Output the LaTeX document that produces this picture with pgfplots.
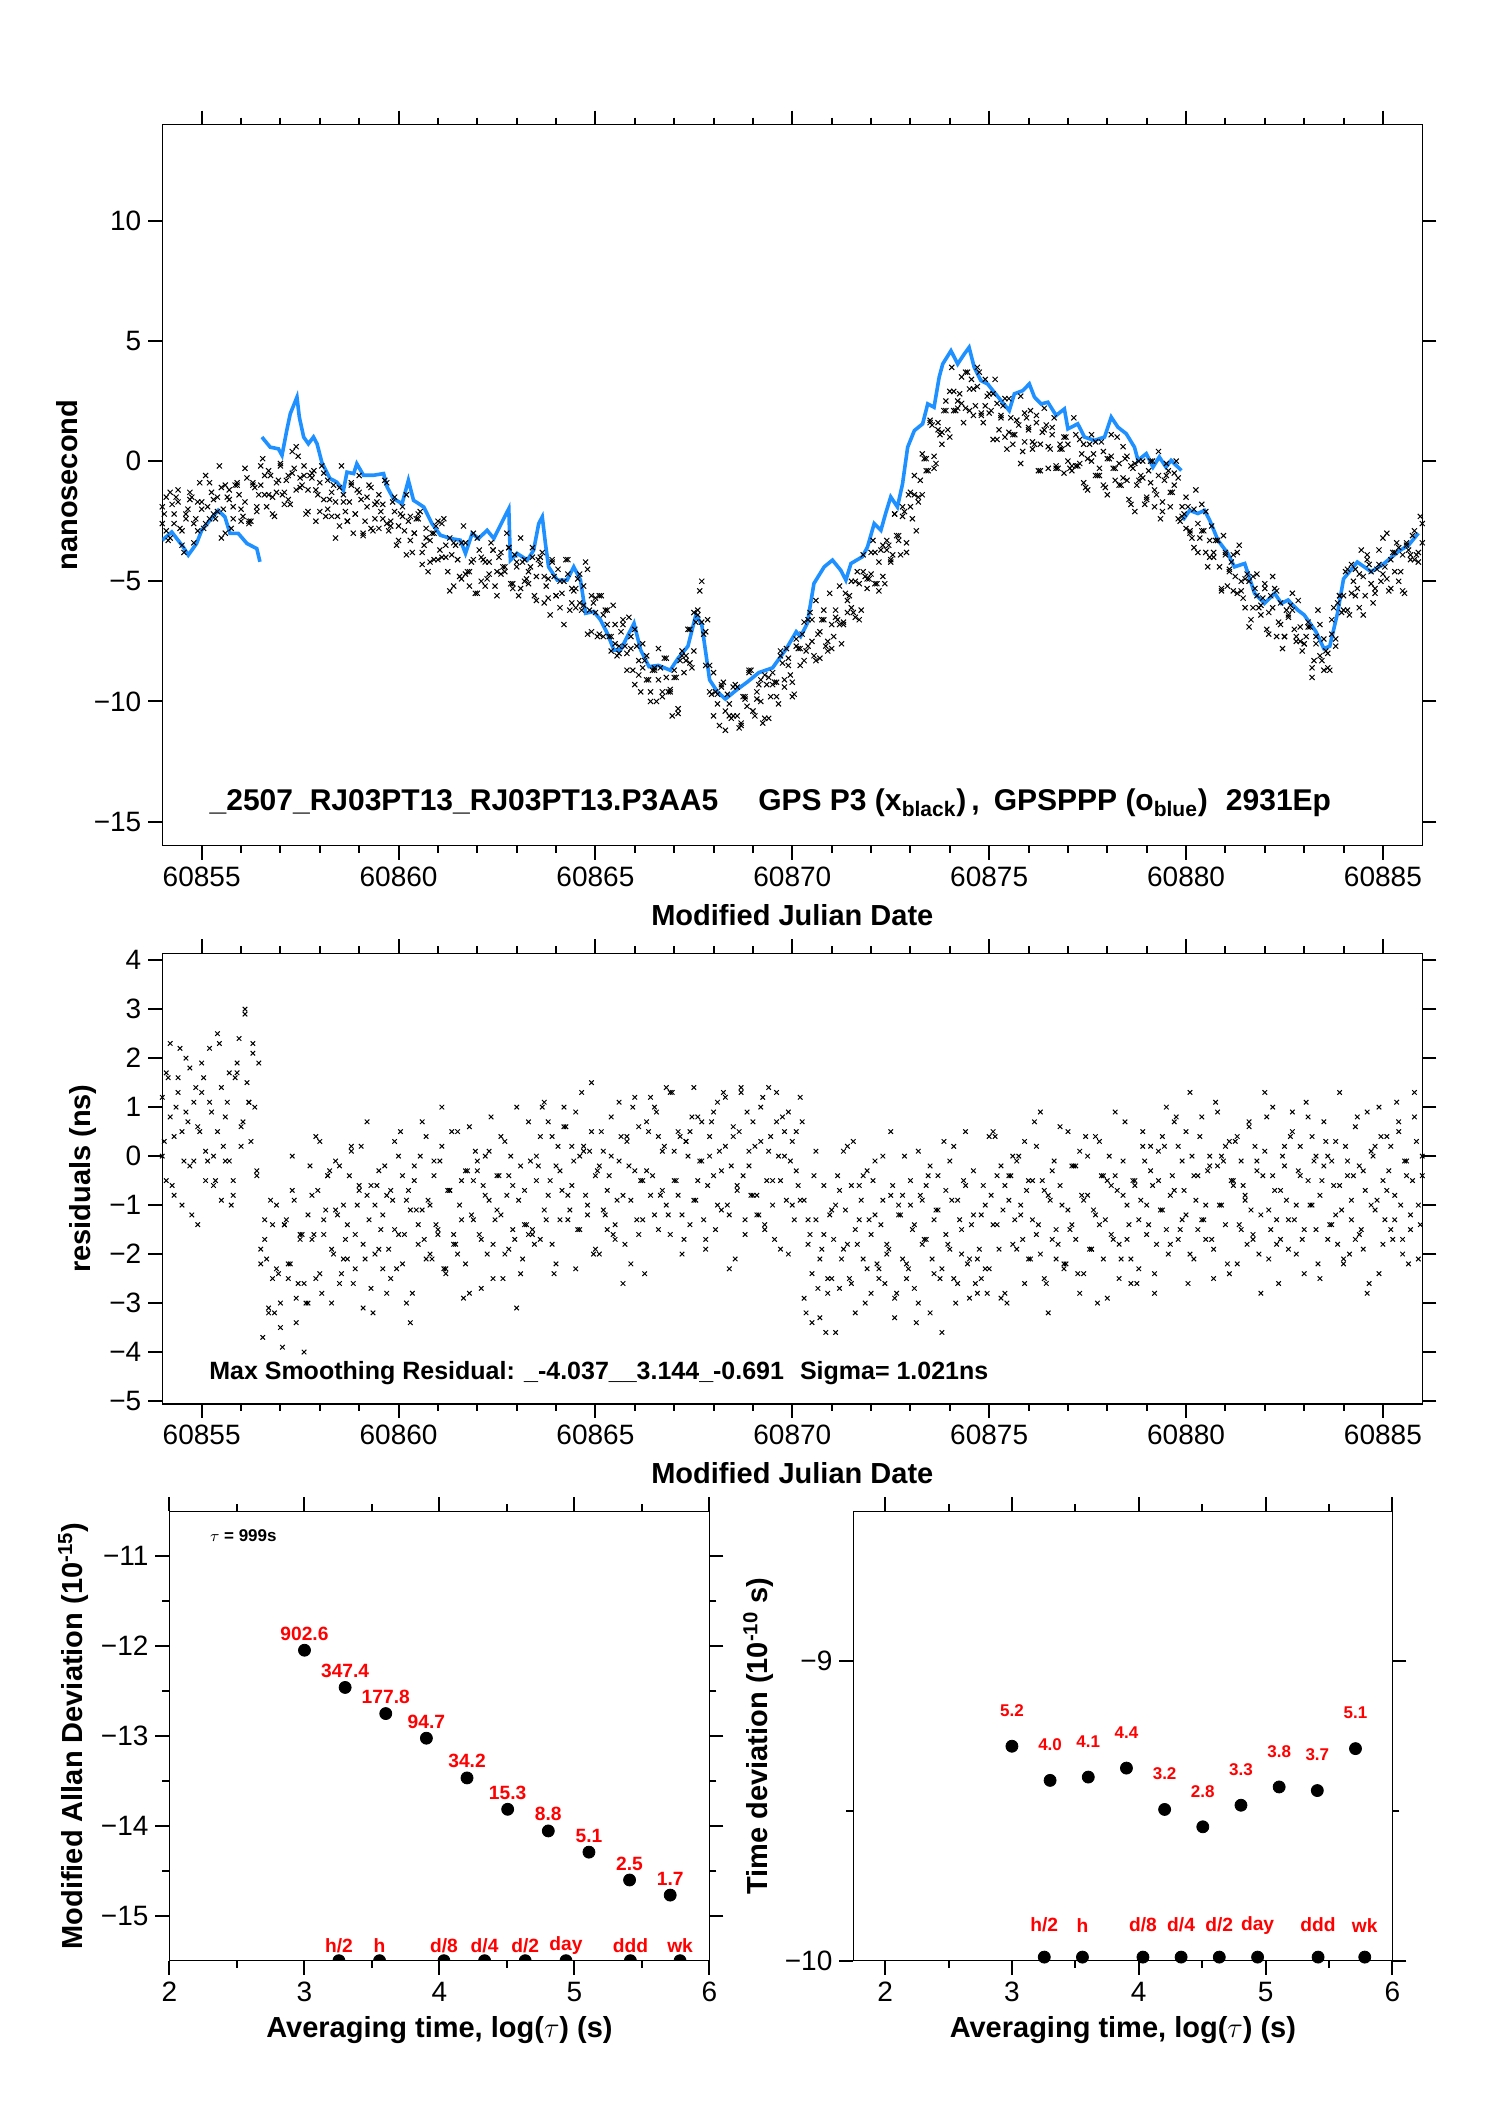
\documentclass[border=0pt]{standalone}
\usepackage{fontspec}
\setmainfont{Liberation Sans}
\usepackage{pgfplots}
\usepackage{pgfplotstable}
\pgfplotsset{compat=1.18}
\definecolor{ppp}{RGB}{30,144,255}

% GPS P3 clock offsets (two samples per row), ns
\pgfplotstableread{
x a b
60854.0 -1.9 -2.6
60854.1 -2.9 -1.5
60854.2 -1.3 -3.2
60854.3 -2.6 -2.2
60854.4 -1.7 -1.2
60854.5 -3.5 -2.9
60854.6 -2.2 -2.4
60854.7 -1.3 -1.6
60854.8 -2.6 -3.4
60854.9 -2.9 -1.7
60855.0 -1.7 -2.0
60855.1 -0.6 -2.6
60855.2 -2.4 -0.9
60855.3 -1.6 -2.2
60855.4 -2.1 -1.5
60855.5 -1.1 -3.2
60855.6 -3.0 -1.0
60855.7 -1.2 -1.6
60855.8 -1.9 -2.4
60855.9 -1.0 -0.9
60856.0 -2.5 -2.0
60856.1 -1.7 -0.3
60856.2 -2.5 -2.6
60856.3 -1.0 -0.9
60856.4 -1.9 -2.1
60856.5 -0.2 -1.0
60856.6 -1.4 -0.6
60856.7 -0.4 -1.4
60856.8 -2.2 -1.5
60856.9 -0.9 -1.3
60857.0 -0.1 -0.2
60857.1 -1.3 -1.8
60857.2 -1.6 -0.6
60857.3 -0.5 0.4
60857.4 0.6 -1.2
60857.5 -1.1 -0.7
60857.6 -0.6 -0.2
60857.7 -1.2 -2.1
60857.8 -0.5 -0.7
60857.9 -2.5 -1.2
60858.0 -0.9 -2.1
60858.1 -1.6 -0.5
60858.2 -0.8 -2.0
60858.3 -2.3 -1.3
60858.4 -1.7 -3.2
60858.5 -2.7 -1.1
60858.6 -1.4 -1.7
60858.7 -2.5 -2.5
60858.8 -0.9 -1.0
60858.9 -2.2 -2.2
60859.0 -1.3 -0.6
60859.1 -3.1 -3.0
60859.2 -1.9 -1.5
60859.3 -1.1 -2.8
60859.4 -2.4 -1.8
60859.5 -2.8 -1.4
60859.6 -1.8 -2.4
60859.7 -0.9 -2.6
60859.8 -2.7 -2.5
60859.9 -2.1 -1.5
60860.0 -2.7 -3.3
60860.1 -1.9 -2.3
60860.2 -3.9 -1.4
60860.3 -2.3 -3.3
60860.4 -3.0 -3.0
60860.5 -2.2 -2.4
60860.6 -3.8 -4.3
60860.7 -3.2 -2.8
60860.8 -4.2 -3.3
60860.9 -3.0 -4.1
60861.0 -4.1 -2.5
60861.1 -2.6 -4.0
60861.2 -4.0 -3.5
60861.3 -3.2 -5.4
60861.4 -5.2 -3.4
60861.5 -4.1 -4.1
60861.6 -3.4 -4.9
60861.7 -4.7 -3.4
60861.8 -5.2 -4.6
60861.9 -4.1 -3.0
60862.0 -3.2 -5.5
60862.1 -5.0 -4.0
60862.2 -4.2 -5.2
60862.3 -4.7 -4.2
60862.4 -3.7 -3.7
60862.5 -5.6 -4.6
60862.6 -3.8 -4.7
60862.7 -4.4 -4.6
60862.8 -3.6 -3.6
60862.9 -5.1 -5.3
60863.0 -4.4 -4.2
60863.1 -5.3 -3.2
60863.2 -4.1 -5.0
60863.3 -5.1 -4.6
60863.4 -3.6 -4.0
60863.5 -4.8 -5.8
60863.6 -4.0 -4.3
60863.7 -5.9 -4.8
60863.8 -4.9 -5.7
60863.9 -4.2 -4.1
60864.0 -5.6 -5.6
60864.1 -6.1 -5.0
60864.2 -5.0 -6.8
60864.3 -4.1 -4.7
60864.4 -5.9 -5.3
60864.5 -5.3 -6.1
60864.6 -5.9 -4.7
60864.7 -5.2 -6.0
60864.8 -7.2 -4.5
60864.9 -5.6 -7.1
60865.0 -6.3 -5.7
60865.1 -5.6 -7.2
60865.2 -7.3 -6.4
60865.3 -6.8 -6.2
60865.4 -7.9 -7.3
60865.5 -6.8 -7.6
60865.6 -8.0 -7.7
60865.7 -6.6 -6.8
60865.8 -8.0 -8.7
60865.9 -7.3 -7.8
60866.0 -9.3 -7.0
60866.1 -8.3 -8.9
60866.2 -7.6 -8.6
60866.3 -9.1 -8.1
60866.4 -9.6 -10.0
60866.5 -8.7 -8.6
60866.6 -7.8 -9.1
60866.7 -9.6 -9.8
60866.8 -9.0 -8.2
60866.9 -9.5 -9.6
60867.0 -8.7 -9.0
60867.1 -10.3 -10.5
60867.2 -8.1 -7.9
60867.3 -8.3 -8.1
60867.4 -7.0 -8.4
60867.5 -7.9 -6.3
60867.6 -6.2 -6.4
60867.7 -6.7 -5.0
60867.8 -7.1 -8.5
60867.9 -9.6 -8.5
60868.0 -8.8 -10.6
60868.1 -10.1 -9.7
60868.2 -9.3 -9.4
60868.3 -11.2 -10.4
60868.4 -10.1 -10.6
60868.5 -9.4 -10.6
60868.6 -10.6 -9.4
60868.7 -10.9 -11.0
60868.8 -9.8 -9.9
60868.9 -8.7 -8.8
60869.0 -10.4 -10.4
60869.1 -9.6 -9.9
60869.2 -10.0 -9.1
60869.3 -8.9 -10.7
60869.4 -10.7 -9.0
60869.5 -8.8 -9.3
60869.6 -9.2 -9.8
60869.7 -8.1 -7.9
60869.8 -9.4 -9.1
60869.9 -8.5 -8.2
60870.0 -9.2 -9.8
60870.1 -7.7 -7.4
60870.2 -8.5 -7.8
60870.3 -6.7 -8.3
60870.4 -7.7 -6.6
60870.5 -6.6 -7.5
60870.6 -8.3 -5.8
60870.7 -7.1 -8.2
60870.8 -6.2 -6.6
60870.9 -7.5 -7.9
60871.0 -7.8 -6.8
60871.1 -6.5 -6.2
60871.2 -5.2 -6.8
60871.3 -6.8 -6.7
60871.4 -5.8 -6.3
60871.5 -6.1 -5.0
60871.6 -5.0 -6.5
60871.7 -6.6 -5.1
60871.8 -4.6 -3.9
60871.9 -4.9 -5.3
60872.0 -3.8 -4.7
60872.1 -5.1 -3.8
60872.2 -4.2 -5.4
60872.3 -4.8 -3.5
60872.4 -3.3 -3.7
60872.5 -4.1 -4.2
60872.6 -2.2 -2.2
60872.7 -3.1 -3.3
60872.8 -1.9 -2.3
60872.9 -3.4 -3.8
60873.0 -1.9 -1.3
60873.1 -0.6 -1.4
60873.2 -1.5 -1.7
60873.3 -1.4 0.3
60873.4 0.1 -0.4
60873.5 1.6 1.7
60873.6 0.2 -0.3
60873.7 1.3 1.6
60873.8 1.2 0.7
60873.9 2.5 2.1
60874.0 1.0 2.9
60874.1 2.9 2.1
60874.2 2.5 2.2
60874.3 3.5 2.4
60874.4 2.2 3.7
60874.5 3.0 2.1
60874.6 1.9 3.0
60874.7 3.1 3.9
60874.8 1.9 2.0
60874.9 3.4 2.3
60875.0 2.0 2.8
60875.1 2.8 0.9
60875.2 0.9 2.4
60875.3 1.9 1.8
60875.4 2.6 1.0
60875.5 1.2 2.6
60875.6 0.7 1.1
60875.7 1.7 1.7
60875.8 2.7 -0.1
60875.9 0.8 2.0
60876.0 1.4 1.3
60876.1 0.8 0.5
60876.2 1.6 1.9
60876.3 -0.4 0.7
60876.4 1.3 2.2
60876.5 0.6 -0.3
60876.6 1.4 1.1
60876.7 -0.2 -0.3
60876.8 0.5 0.7
60876.9 -0.5 1.0
60877.0 0.7 0.0
60877.1 -0.4 -0.2
60877.2 1.1 -0.2
60877.3 -0.1 0.9
60877.4 0.7 -0.9
60877.5 -1.2 0.1
60877.6 0.0 1.1
60877.7 0.8 -0.6
60877.8 -0.6 -0.3
60877.9 -1.0 0.4
60878.0 0.1 -1.4
60878.1 1.1 0.2
60878.2 -0.8 -0.3
60878.3 -0.1 -1.0
60878.4 -0.7 0.6
60878.5 0.2 -0.8
60878.6 -1.8 -0.2
60878.7 -0.1 -2.1
60878.8 -0.8 0.0
60878.9 0.0 -0.7
60879.0 -1.6 -1.5
60879.1 -0.9 0.0
60879.2 -1.9 -1.2
60879.3 -0.6 0.4
60879.4 -1.7 -2.1
60879.5 -0.1 -0.6
60879.6 -1.3 -1.9
60879.7 -0.5 -1.0
60879.8 -2.4 -0.7
60879.9 -1.9 -2.3
60880.0 -1.5 -2.8
60880.1 -3.0 -2.9
60880.2 -3.6 -2.0
60880.3 -2.6 -3.8
60880.4 -1.8 -2.9
60880.5 -3.8 -2.1
60880.6 -3.3 -4.0
60880.7 -4.0 -3.8
60880.8 -3.3 -3.3
60880.9 -5.4 -5.3
60881.0 -3.8 -3.9
60881.1 -4.6 -4.5
60881.2 -3.9 -5.4
60881.3 -5.5 -3.8
60881.4 -5.0 -5.4
60881.5 -6.1 -4.9
60881.6 -5.0 -6.9
60881.7 -6.1 -4.8
60881.8 -4.7 -5.6
60881.9 -6.0 -6.4
60882.0 -5.3 -5.1
60882.1 -7.2 -6.3
60882.2 -6.1 -4.8
60882.3 -5.4 -7.3
60882.4 -6.8 -5.9
60882.5 -7.3 -7.3
60882.6 -6.4 -6.5
60882.7 -5.5 -6.2
60882.8 -7.5 -7.3
60882.9 -6.9 -7.5
60883.0 -7.6 -7.6
60883.1 -6.9 -6.7
60883.2 -9.0 -8.6
60883.3 -7.3 -7.6
60883.4 -8.1 -6.8
60883.5 -7.4 -8.7
60883.6 -8.6 -8.0
60883.7 -7.2 -6.6
60883.8 -7.4 -7.7
60883.9 -5.6 -5.6
60884.0 -6.2 -5.6
60884.1 -4.5 -6.2
60884.2 -5.5 -4.3
60884.3 -4.5 -5.6
60884.4 -6.1 -4.7
60884.5 -4.8 -6.4
60884.6 -3.9 -4.1
60884.7 -5.1 -4.6
60884.8 -5.5 -5.3
60884.9 -4.3 -3.7
60885.0 -3.2 -4.7
60885.1 -4.9 -3.0
60885.2 -4.1 -5.3
60885.3 -4.6 -3.8
60885.4 -3.6 -5.0
60885.5 -5.4 -3.9
60885.6 -3.5 -3.4
60885.7 -3.9 -4.1
60885.8 -2.9 -4.1
60885.9 -4.2 -3.8
60886.0 -3.4 -2.6
}\pthree

% GPS P3, samples between the rows above
\pgfplotstableread{
x y
60854.05 -2.2
60854.15 -3.3
60854.25 -1.8
60854.35 -1.5
60854.45 -2.8
60854.55 -3.8
60854.65 -2.0
60854.75 -1.5
60854.85 -2.4
60854.95 -0.9
60855.05 -2.8
60855.15 -1.9
60855.25 -1.3
60855.35 -2.4
60855.45 -0.2
60855.55 -2.0
60855.65 -1.5
60855.75 -2.8
60855.85 -1.0
60855.95 -1.4
60856.05 -2.3
60856.15 -0.7
60856.25 -2.5
60856.35 -1.1
60856.45 -1.4
60856.55 0.1
60856.65 -1.9
60856.75 -0.6
60856.85 -2.3
60856.95 -0.8
60857.05 -1.4
60857.15 -0.8
60857.25 -1.8
60857.35 -0.3
60857.45 0.2
60857.55 -1.0
60857.65 -2.2
60857.75 -0.6
60857.85 -0.4
60857.95 -1.4
60858.05 -0.2
60858.15 -2.3
60858.25 -1.6
60858.35 -1.0
60858.45 -2.3
60858.55 -0.2
60858.65 -2.1
60858.75 -1.7
60858.85 -3.0
60858.95 -1.2
60859.05 -1.6
60859.15 -2.5
60859.25 -1.0
60859.35 -2.9
60859.45 -1.7
60859.55 -2.1
60859.65 -0.8
60859.75 -2.9
60859.85 -1.7
60859.95 -3.5
60860.05 -2.2
60860.15 -2.9
60860.25 -2.5
60860.35 -3.8
60860.45 -2.4
60860.55 -2.1
60860.65 -3.5
60860.75 -4.6
60860.85 -3.0
60860.95 -2.7
60861.05 -3.7
60861.15 -2.4
60861.25 -4.6
60861.35 -3.9
60861.45 -3.5
60861.55 -4.8
60861.65 -2.7
60861.75 -4.6
60861.85 -4.2
60861.95 -5.5
60862.05 -3.7
60862.15 -4.1
60862.25 -4.9
60862.35 -3.4
60862.45 -5.2
60862.55 -4.0
60862.65 -4.4
60862.75 -3.0
60862.85 -5.1
60862.95 -3.9
60863.05 -5.6
60863.15 -4.2
60863.25 -4.9
60863.35 -4.4
60863.45 -5.6
60863.55 -4.1
60863.65 -3.8
60863.75 -5.2
60863.85 -6.4
60863.95 -4.8
60864.05 -4.5
60864.15 -5.5
60864.25 -4.1
60864.35 -6.2
60864.45 -5.4
60864.55 -4.9
60864.65 -6.2
60864.75 -4.2
60864.85 -6.2
60864.95 -5.9
60865.05 -7.3
60865.15 -5.6
60865.25 -6.2
60865.35 -7.3
60865.45 -6.0
60865.55 -8.1
60865.65 -7.1
60865.75 -7.7
60865.85 -6.5
60865.95 -8.7
60866.05 -7.7
60866.15 -9.6
60866.25 -8.3
60866.35 -9.1
60866.45 -8.7
60866.55 -10.0
60866.65 -8.6
60866.75 -8.2
60866.85 -9.6
60866.95 -10.6
60867.05 -9.0
60867.15 -8.3
60867.25 -8.8
60867.35 -7.0
60867.45 -8.6
60867.55 -6.7
60867.65 -5.4
60867.75 -7.2
60867.85 -6.6
60867.95 -9.7
60868.05 -9.6
60868.15 -11.0
60868.25 -9.2
60868.35 -9.7
60868.45 -10.7
60868.55 -9.3
60868.65 -11.1
60868.75 -9.8
60868.85 -10.2
60868.95 -8.7
60869.05 -10.6
60869.15 -9.3
60869.25 -10.9
60869.35 -9.3
60869.45 -9.8
60869.55 -9.2
60869.65 -10.1
60869.75 -8.4
60869.85 -7.8
60869.95 -8.9
60870.05 -9.7
60870.15 -7.8
60870.25 -7.2
60870.35 -7.9
60870.45 -6.3
60870.55 -8.1
60870.65 -7.2
60870.75 -6.6
60870.85 -7.7
60870.95 -5.5
60871.05 -7.3
60871.15 -6.6
60871.25 -7.6
60871.35 -5.5
60871.45 -5.6
60871.55 -6.3
60871.65 -4.6
60871.75 -6.2
60871.85 -4.8
60871.95 -4.9
60872.05 -3.3
60872.15 -5.1
60872.25 -3.7
60872.35 -5.1
60872.45 -3.5
60872.55 -3.9
60872.65 -3.1
60872.75 -3.9
60872.85 -2.1
60872.95 -1.4
60873.05 -2.4
60873.15 -2.9
60873.25 -0.8
60873.35 0.1
60873.45 -0.4
60873.55 1.5
60873.65 -0.1
60873.75 1.1
60873.85 2.1
60873.95 1.3
60874.05 3.9
60874.15 2.1
60874.25 2.8
60874.35 1.6
60874.45 3.7
60874.55 3.4
60874.65 2.3
60874.75 3.7
60874.85 1.6
60874.95 2.7
60875.05 2.1
60875.15 3.4
60875.25 1.3
60875.35 2.3
60875.45 0.5
60875.55 1.8
60875.65 1.1
60875.75 1.5
60875.85 0.4
60875.95 1.8
60876.05 2.1
60876.15 0.7
60876.25 -0.4
60876.35 1.2
60876.45 1.5
60876.55 0.5
60876.65 1.8
60876.75 -0.3
60876.85 0.5
60876.95 1.0
60877.05 -0.3
60877.15 1.8
60877.25 -0.2
60877.35 0.3
60877.45 -1.1
60877.55 0.7
60877.65 0.3
60877.75 -0.6
60877.85 0.8
60877.95 -1.1
60878.05 0.1
60878.15 -0.3
60878.25 1.0
60878.35 -1.0
60878.45 0.1
60878.55 -1.6
60878.65 -0.3
60878.75 -1.0
60878.85 -0.6
60878.95 -1.8
60879.05 -0.4
60879.15 0.0
60879.25 -1.4
60879.35 -2.4
60879.45 -0.8
60879.55 -0.4
60879.65 -1.3
60879.75 0.0
60879.85 -2.5
60879.95 -2.2
60880.05 -1.9
60880.15 -3.2
60880.25 -1.2
60880.35 -3.2
60880.45 -2.9
60880.55 -4.4
60880.65 -2.7
60880.75 -3.3
60880.85 -4.4
60880.95 -3.1
60881.05 -5.2
60881.15 -4.2
60881.25 -4.8
60881.35 -3.5
60881.45 -5.7
60881.55 -4.7
60881.65 -6.6
60881.75 -5.3
60881.85 -6.1
60881.95 -5.7
60882.05 -7.0
60882.15 -5.6
60882.25 -5.3
60882.35 -6.7
60882.45 -7.8
60882.55 -6.2
60882.65 -6.0
60882.75 -7.0
60882.85 -5.8
60882.95 -7.9
60883.05 -7.3
60883.15 -6.9
60883.25 -8.3
60883.35 -6.2
60883.45 -8.3
60883.55 -7.9
60883.65 -8.7
60883.75 -6.1
60883.85 -5.9
60883.95 -6.3
60884.05 -4.6
60884.15 -6.4
60884.25 -5.0
60884.35 -5.3
60884.45 -3.7
60884.55 -5.6
60884.65 -4.3
60884.75 -5.9
60884.85 -4.5
60884.95 -5.0
60885.05 -4.4
60885.15 -5.4
60885.25 -3.8
60885.35 -3.4
60885.45 -4.6
60885.55 -5.5
60885.65 -3.7
60885.75 -3.1
60885.85 -3.9
60885.95 -2.3
}\pthreeh

% GPSPPP solution, ns
\pgfplotstableread{
x y
60854.00 -3.29
60854.24 -2.95
60854.53 -3.57
60854.66 -3.91
60854.87 -3.43
60855.00 -2.88
60855.21 -2.46
60855.42 -2.05
60855.59 -2.32
60855.72 -3.01
60855.93 -3.01
60856.15 -3.43
60856.40 -3.64
60856.48 -4.19
nan nan
60856.53 1.00
60856.74 0.58
60856.95 0.51
60857.04 0.24
60857.16 1.27
60857.25 1.97
60857.42 2.66
60857.48 1.83
60857.59 1.00
60857.71 0.72
60857.84 1.00
60857.93 0.72
60858.05 -0.04
60858.26 -0.73
60858.43 -0.87
60858.60 -1.22
60858.69 -0.46
60858.86 -0.52
60858.94 -0.11
60859.11 -0.59
60859.36 -0.59
60859.62 -0.52
60859.71 -1.08
60859.87 -1.56
60860.09 -1.77
60860.25 -0.80
60860.38 -1.63
60860.64 -1.91
60860.85 -2.60
60861.06 -3.08
60861.32 -3.22
60861.57 -3.29
60861.70 -3.84
60861.87 -3.01
60862.03 -3.22
60862.25 -2.88
60862.42 -3.22
60862.63 -2.53
60862.80 -1.98
60862.84 -4.12
60863.01 -3.84
60863.27 -4.12
60863.43 -3.71
60863.56 -2.60
60863.65 -2.32
60863.73 -3.43
60863.81 -4.40
60864.03 -4.95
60864.28 -4.95
60864.45 -4.40
60864.62 -4.95
60864.75 -6.33
60864.96 -6.26
60865.13 -6.61
60865.30 -7.16
60865.47 -7.86
60865.64 -7.86
60865.81 -7.30
60865.98 -6.75
60866.15 -7.86
60866.36 -8.55
60866.60 -8.50
60866.90 -8.70
60867.10 -8.20
60867.35 -7.70
60867.55 -6.40
60867.70 -6.80
60867.90 -9.10
60868.10 -9.60
60868.30 -9.90
60868.60 -9.50
60868.85 -9.20
60869.15 -8.80
60869.50 -8.60
60869.85 -7.80
60870.10 -7.10
60870.21 -7.30
60870.38 -6.75
60870.55 -5.09
60870.81 -4.40
60871.02 -4.12
60871.23 -4.54
60871.36 -4.95
60871.49 -4.26
60871.78 -3.98
60871.91 -3.57
60872.08 -2.60
60872.25 -2.88
60872.37 -2.18
60872.50 -1.49
60872.67 -1.91
60872.80 -0.94
60872.93 0.58
60873.10 1.27
60873.31 1.55
60873.44 2.38
60873.60 2.24
60873.73 3.49
60873.82 4.04
60874.03 4.59
60874.20 4.04
60874.37 4.46
60874.49 4.73
60874.62 3.90
60874.79 3.35
60874.96 3.21
60875.13 2.86
60875.30 2.52
60875.51 2.10
60875.64 2.80
60875.85 2.93
60876.02 3.21
60876.15 2.66
60876.32 2.38
60876.49 2.45
60876.70 1.90
60876.91 2.17
60877.00 1.34
60877.25 1.55
60877.42 1.00
60877.67 0.86
60877.93 1.00
60878.10 1.83
60878.27 1.41
60878.48 1.14
60878.69 0.58
60878.78 0.03
60878.99 0.31
60879.16 -0.25
60879.32 0.17
60879.49 -0.25
60879.62 0.03
60879.88 -0.39
nan nan
60879.92 -2.46
60880.09 -2.05
60880.30 -2.18
60880.47 -2.05
60880.60 -2.46
60880.81 -3.29
60881.06 -3.84
60881.23 -4.40
60881.49 -4.26
60881.74 -5.50
60881.99 -5.92
60882.25 -5.50
60882.42 -5.92
60882.59 -5.78
60882.84 -6.20
60883.00 -6.40
60883.30 -7.10
60883.50 -7.80
60883.65 -7.70
60883.85 -6.30
60884.00 -4.90
60884.35 -4.20
60884.70 -4.60
60885.00 -4.30
60885.40 -3.75
60885.65 -3.50
60885.90 -3.00
}\gpsppp

% smoothing residuals, ns
\pgfplotstableread{
x a b
60854.0 1.2 0.0
60854.1 -0.5 1.7
60854.2 2.3 0.8
60854.3 0.4 -0.8
60854.4 1.6 1.3
60854.5 -1.0 0.5
60854.6 0.9 2.0
60854.7 1.8 -0.2
60854.8 -0.1 1.1
60854.9 0.6 -1.4
60855.0 1.9 1.3
60855.1 -0.5 0.1
60855.2 1.1 2.2
60855.3 0.0 -0.6
60855.4 2.5 0.5
60855.5 -0.9 1.4
60855.6 0.8 -0.1
60855.7 -0.1 1.7
60855.8 -0.5 -0.8
60855.9 1.9 1.7
60856.0 0.2 0.6
60856.1 3.0 2.9
60856.2 1.1 1.1
60856.3 2.3 2.1
60856.4 -0.3 -0.4
60856.5 -2.2 -1.9
60856.6 -1.3 -1.7
60856.7 -3.2 -3.1
60856.8 -2.5 -1.4
60856.9 -1.0 -2.3
60857.0 -3.0 -3.5
60857.1 -1.4 -1.4
60857.2 -2.5 -2.2
60857.3 0.0 -0.7
60857.4 -3.4 -2.9
60857.5 -1.7 -1.6
60857.6 -2.6 -4.0
60857.7 -3.0 -1.2
60857.8 -0.8 -1.7
60857.9 -2.5 0.4
60858.0 0.3 -2.4
60858.1 -1.6 -1.3
60858.2 -0.4 -0.4
60858.3 -3.0 -1.9
60858.4 -1.1 -0.1
60858.5 -0.2 -2.6
60858.6 -2.1 -1.0
60858.7 -1.4 -2.1
60858.8 0.1 0.2
60858.9 -2.3 -1.6
60859.0 -0.7 -0.6
60859.1 -1.8 -3.1
60859.2 0.7 -0.8
60859.3 -2.7 -0.6
60859.4 -1.0 -2.0
60859.5 -1.9 -0.3
60859.6 -2.3 -1.2
60859.7 -0.8 -2.8
60859.8 -2.5 -0.7
60859.9 0.3 -1.5
60860.0 -1.6 0.0
60860.1 -0.4 -2.2
60860.2 -3.0 -0.9
60860.3 -1.1 -3.4
60860.4 -0.2 -0.5
60860.5 -1.8 -1.4
60860.6 -1.1 0.7
60860.7 0.4 -2.1
60860.8 -2.0 -1.0
60860.9 -0.4 -0.1
60861.0 -1.5 -1.6
60861.1 1.0 0.2
60861.2 -2.4 -2.3
60861.3 -0.7 -0.7
60861.4 -1.6 -1.8
60861.5 -2.0 0.5
60861.6 -0.5 -1.3
60861.7 -2.2 -0.3
60861.8 0.6 -2.8
60861.9 -1.3 -0.5
60862.0 -0.1 -0.3
60862.1 -2.7 -1.7
60862.2 -0.8 0.0
60862.3 0.1 -0.9
60862.4 -1.8 -2.5
60862.5 -1.1 -0.4
60862.6 0.4 -1.2
60862.7 -2.0 0.3
60862.8 -0.4 -1.9
60862.9 -1.5 -0.6
60863.0 1.0 -3.1
60863.1 -2.4 -0.2
60863.2 -0.7 -1.4
60863.3 -1.6 0.7
60863.4 -1.5 -1.6
60863.5 0.0 -0.5
60863.6 -1.7 0.4
60863.7 1.1 -1.1
60863.8 -0.8 0.7
60863.9 0.4 -1.8
60864.0 -2.2 -0.2
60864.1 -0.3 -1.3
60864.2 0.6 1.0
60864.3 -1.3 -0.8
60864.4 -0.6 0.2
60864.5 0.9 -2.3
60864.6 -1.5 0.0
60864.7 0.1 0.2
60864.8 -1.0 -1.2
60864.9 1.5 0.5
60865.0 -1.9 -0.4
60865.1 -0.2 -2.0
60865.2 -1.1 0.1
60865.3 -1.5 -0.7
60865.4 0.0 0.8
60865.5 -1.7 -1.4
60865.6 1.1 -0.1
60865.7 -0.8 -2.6
60865.8 0.4 0.3
60865.9 -2.2 -0.9
60866.0 -0.3 1.2
60866.1 0.6 -1.6
60866.2 -1.3 -0.5
60866.3 -0.3 0.7
60866.4 1.2 -0.8
60866.5 -1.2 1.0
60866.6 0.4 -1.5
60866.7 -0.7 0.1
60866.8 1.4 -1.0
60866.9 -1.6 1.3
60867.0 0.1 -0.5
60867.1 -0.8 0.5
60867.2 -1.2 -2.0
60867.3 0.3 0.3
60867.4 -1.4 0.5
60867.5 1.4 -0.9
60867.6 -0.5 0.8
60867.7 0.7 -0.1
60867.8 -1.9 -1.7
60867.9 0.0 0.4
60868.0 0.9 -0.4
60868.1 -1.0 1.1
60868.2 -0.3 -1.1
60868.3 1.2 0.2
60868.4 -1.2 -2.3
60868.5 0.4 0.6
60868.6 -0.7 -0.6
60868.7 1.4 1.3
60868.8 -1.6 -1.3
60868.9 0.1 -0.2
60869.0 -0.8 0.7
60869.1 -1.2 -0.8
60869.2 0.3 1.0
60869.3 -1.4 -1.5
60869.4 1.4 0.1
60869.5 -0.5 -1.0
60869.6 0.7 1.3
60869.7 -1.9 -0.5
60869.8 0.0 0.5
60869.9 0.9 -2.0
60870.0 -1.0 0.3
60870.1 -0.3 0.5
60870.2 1.2 -0.9
60870.3 -2.9 -0.9
60870.4 -1.3 -1.8
60870.5 -2.4 -3.4
60870.6 0.1 -1.3
60870.7 -3.3 -2.1
60870.8 -1.6 -0.6
60870.9 -2.5 -2.8
60871.0 -2.5 -1.1
60871.1 -1.0 -3.6
60871.2 -2.7 -0.7
60871.3 0.1 -1.9
60871.4 -1.8 0.2
60871.5 -0.6 -2.6
60871.6 -3.2 -1.5
60871.7 -1.3 -0.6
60871.8 -0.4 -2.1
60871.9 -2.3 -0.3
60872.0 -1.6 -2.8
60872.1 -0.1 -1.2
60872.2 -2.5 -2.3
60872.3 -0.9 0.0
60872.4 -2.0 -1.8
60872.5 0.5 -0.8
60872.6 -2.9 -3.3
60872.7 -1.2 -1.0
60872.8 -2.1 -0.8
60872.9 -2.5 -2.2
60873.0 -1.0 -0.5
60873.1 -2.7 -1.4
60873.2 0.1 -3.0
60873.3 -1.8 -0.9
60873.4 -0.6 -1.7
60873.5 -3.2 -0.2
60873.6 -1.3 -2.4
60873.7 -0.4 -1.1
60873.8 -2.3 -3.6
60873.9 -1.6 -0.7
60874.0 -0.1 -1.9
60874.1 -2.5 0.2
60874.2 -0.9 -2.6
60874.3 -2.0 -1.5
60874.4 0.5 -0.6
60874.5 -2.9 -2.1
60874.6 -1.2 -0.3
60874.7 -2.1 -2.8
60874.8 -2.5 -1.2
60874.9 -1.0 -2.3
60875.0 -2.3 0.4
60875.1 0.5 -1.4
60875.2 -1.4 -0.4
60875.3 -0.2 -2.9
60875.4 -2.8 -0.6
60875.5 -0.9 -0.4
60875.6 0.0 -1.8
60875.7 -1.9 -0.1
60875.8 -1.2 -1.0
60875.9 0.3 -2.6
60876.0 -2.1 -0.5
60876.1 -0.5 -1.3
60876.2 -1.6 0.2
60876.3 0.9 -2.0
60876.4 -2.5 -0.7
60876.5 -0.8 -3.2
60876.6 -1.7 -0.3
60876.7 -2.1 -1.5
60876.8 -0.6 0.6
60876.9 -2.3 -2.2
60877.0 0.5 -1.1
60877.1 -1.4 -0.2
60877.2 -0.2 -1.7
60877.3 -2.8 0.1
60877.4 -0.9 -2.4
60877.5 0.0 -0.8
60877.6 -1.9 -1.9
60877.7 -1.2 0.4
60877.8 0.3 -1.4
60877.9 -2.1 -0.4
60878.0 -0.5 -2.9
60878.1 -1.6 -0.6
60878.2 0.9 -0.4
60878.3 -2.5 -1.8
60878.4 -0.8 -0.1
60878.5 -1.7 -1.0
60878.6 -2.1 -2.6
60878.7 -0.6 -0.5
60878.8 -2.3 -1.3
60878.9 0.5 0.2
60879.0 -1.0 -1.6
60879.1 0.2 -0.3
60879.2 -2.4 -2.8
60879.3 -0.5 0.1
60879.4 0.4 -1.1
60879.5 -1.5 1.0
60879.6 -0.8 -1.8
60879.7 0.7 -0.7
60879.8 -1.7 0.2
60879.9 -0.1 -1.3
60880.0 -1.2 0.5
60880.1 1.3 -2.0
60880.2 -2.1 -0.4
60880.3 -0.4 -1.5
60880.4 -1.3 0.8
60880.5 -1.7 -1.0
60880.6 -0.2 0.0
60880.7 -1.9 -2.5
60880.8 0.9 -0.2
60880.9 -1.0 0.0
60881.0 0.2 -1.4
60881.1 -2.4 0.3
60881.2 -0.5 -0.6
60881.3 0.4 -2.2
60881.4 -1.5 -0.1
60881.5 -0.8 -0.9
60881.6 0.7 0.6
60881.7 -1.7 -1.6
60881.8 -0.1 -0.3
60881.9 -1.2 -2.8
60882.0 1.3 0.1
60882.1 -2.1 -1.1
60882.2 -0.4 1.0
60882.3 -1.3 -1.8
60882.4 -1.7 -0.7
60882.5 -0.2 0.2
60882.6 -1.9 -1.3
60882.7 0.9 0.5
60882.8 -1.0 -2.0
60882.9 0.2 -0.4
60883.0 -2.4 -1.5
60883.1 -0.5 0.8
60883.2 0.4 -1.0
60883.3 -1.5 0.0
60883.4 -0.8 -2.5
60883.5 0.7 -0.2
60883.6 -1.7 0.0
60883.7 -0.1 -1.4
60883.8 -1.2 0.3
60883.9 1.3 -0.6
60884.0 -2.1 -2.2
60884.1 -0.4 -0.1
60884.2 -1.3 -0.9
60884.3 -1.7 0.6
60884.4 -0.2 -1.6
60884.5 -1.9 -0.3
60884.6 0.9 -2.8
60884.7 -1.0 0.1
60884.8 0.2 -1.1
60884.9 -2.4 1.0
60885.0 -0.5 -1.8
60885.1 0.4 -0.7
60885.2 -1.5 0.2
60885.3 -0.8 -1.3
60885.4 0.7 0.5
60885.5 -1.7 -2.0
60885.6 -0.1 -0.4
60885.7 -1.2 -1.5
60885.8 1.3 0.8
60885.9 -2.1 -1.0
60886.0 -0.4 0.0
}\resid

% residuals, samples between the rows above
\pgfplotstableread{
x y
60854.05 0.3
60854.15 1.6
60854.25 -0.6
60854.35 1.0
60854.45 2.2
60854.55 -0.1
60854.65 0.7
60854.75 -1.2
60854.85 1.4
60854.95 0.5
60855.05 1.6
60855.15 -0.1
60855.25 0.9
60855.35 -0.5
60855.45 2.3
60855.55 0.2
60855.65 1.1
60855.75 -1.0
60855.85 1.6
60855.95 2.4
60856.05 0.7
60856.15 1.5
60856.25 0.3
60856.35 1.0
60856.45 1.9
60856.55 -3.7
60856.65 -2.1
60856.75 -0.9
60856.85 -3.2
60856.95 -2.4
60857.05 -3.9
60857.15 -1.3
60857.25 -2.2
60857.35 -0.9
60857.45 -2.6
60857.55 -1.6
60857.65 -3.0
60857.75 -0.2
60857.85 -1.6
60857.95 -0.7
60858.05 -2.8
60858.15 -1.1
60858.25 -0.3
60858.35 -2.0
60858.45 -1.2
60858.55 -2.4
60858.65 -1.7
60858.75 -0.4
60858.85 -2.6
60858.95 -1.0
60859.05 0.2
60859.15 -2.1
60859.25 -1.3
60859.35 -3.2
60859.45 -0.6
60859.55 -1.5
60859.65 -0.2
60859.75 -1.9
60859.85 -0.9
60859.95 -2.3
60860.05 0.5
60860.15 -1.6
60860.25 -0.7
60860.35 -2.8
60860.45 -1.1
60860.55 0.0
60860.65 -1.7
60860.75 -0.9
60860.85 -2.1
60860.95 -1.4
60861.05 -0.1
60861.15 -2.3
60861.25 -0.7
60861.35 0.5
60861.45 -1.8
60861.55 -1.0
60861.65 -2.9
60861.75 -0.3
60861.85 -1.2
60861.95 0.1
60862.05 -1.6
60862.15 -0.6
60862.25 -2.0
60862.35 0.8
60862.45 -1.3
60862.55 -0.4
60862.65 -2.5
60862.75 -0.8
60862.85 0.0
60862.95 -1.7
60863.05 -0.9
60863.15 -2.1
60863.25 -1.4
60863.35 -0.1
60863.45 -1.8
60863.55 -0.2
60863.65 1.0
60863.75 -1.3
60863.85 -0.5
60863.95 -2.4
60864.05 0.2
60864.15 -0.7
60864.25 0.6
60864.35 -1.1
60864.45 -0.1
60864.55 -1.5
60864.65 1.3
60864.75 -0.8
60864.85 0.1
60864.95 -2.0
60865.05 -0.3
60865.15 0.5
60865.25 -1.2
60865.35 -0.4
60865.45 -1.6
60865.55 -0.9
60865.65 0.4
60865.75 -1.8
60865.85 -0.2
60865.95 1.0
60866.05 -1.3
60866.15 -0.5
60866.25 -2.4
60866.35 0.5
60866.45 -0.4
60866.55 0.9
60866.65 -0.8
60866.75 0.2
60866.85 -1.2
60866.95 1.3
60867.05 -0.5
60867.15 0.4
60867.25 -1.7
60867.35 0.0
60867.45 0.8
60867.55 -0.9
60867.65 -0.1
60867.75 -1.3
60867.85 -0.6
60867.95 0.7
60868.05 -1.5
60868.15 0.1
60868.25 1.3
60868.35 -1.0
60868.45 -0.2
60868.55 -2.1
60868.65 0.5
60868.75 -0.4
60868.85 0.9
60868.95 -0.8
60869.05 0.2
60869.15 -1.2
60869.25 1.2
60869.35 -0.5
60869.45 0.4
60869.55 -1.7
60869.65 0.0
60869.75 0.8
60869.85 -0.9
60869.95 -0.1
60870.05 -1.3
60870.15 -0.6
60870.25 0.7
60870.35 -3.2
60870.45 -1.6
60870.55 -0.4
60870.65 -2.7
60870.75 -1.9
60870.85 -3.6
60870.95 -1.2
60871.05 -1.7
60871.15 -0.4
60871.25 -2.1
60871.35 -1.1
60871.45 -2.5
60871.55 0.3
60871.65 -1.8
60871.75 -0.9
60871.85 -3.0
60871.95 -1.3
60872.05 -0.5
60872.15 -2.2
60872.25 -1.4
60872.35 -2.6
60872.45 -1.9
60872.55 -0.6
60872.65 -2.8
60872.75 -1.2
60872.85 0.0
60872.95 -2.3
60873.05 -1.5
60873.15 -3.4
60873.25 -0.8
60873.35 -1.7
60873.45 -0.4
60873.55 -2.1
60873.65 -1.1
60873.75 -2.5
60873.85 0.3
60873.95 -1.8
60874.05 -0.9
60874.15 -3.0
60874.25 -1.3
60874.35 -0.5
60874.45 -2.2
60874.55 -1.4
60874.65 -2.6
60874.75 -1.9
60874.85 -0.6
60874.95 -2.8
60875.05 -0.8
60875.15 0.4
60875.25 -1.9
60875.35 -1.1
60875.45 -3.0
60875.55 -0.4
60875.65 -1.3
60875.75 0.0
60875.85 -1.7
60875.95 -0.7
60876.05 -2.1
60876.15 0.7
60876.25 -1.4
60876.35 -0.5
60876.45 -2.6
60876.55 -0.9
60876.65 -0.1
60876.75 -1.8
60876.85 -1.0
60876.95 -2.2
60877.05 -1.5
60877.15 -0.2
60877.25 -2.4
60877.35 -0.8
60877.45 0.4
60877.55 -1.9
60877.65 -1.1
60877.75 -3.0
60877.85 -0.4
60877.95 -1.3
60878.05 0.0
60878.15 -1.7
60878.25 -0.7
60878.35 -2.1
60878.45 0.7
60878.55 -1.4
60878.65 -0.5
60878.75 -2.6
60878.85 -0.9
60878.95 -0.1
60879.05 -1.4
60879.15 -0.6
60879.25 -1.8
60879.35 -1.1
60879.45 0.2
60879.55 -2.0
60879.65 -0.4
60879.75 0.8
60879.85 -1.5
60879.95 -0.7
60880.05 -2.6
60880.15 0.0
60880.25 -0.9
60880.35 0.4
60880.45 -1.3
60880.55 -0.3
60880.65 -1.7
60880.75 1.1
60880.85 -1.0
60880.95 -0.1
60881.05 -2.2
60881.15 -0.5
60881.25 0.3
60881.35 -1.4
60881.45 -0.6
60881.55 -1.8
60881.65 -1.1
60881.75 0.2
60881.85 -2.0
60881.95 -0.4
60882.05 0.8
60882.15 -1.5
60882.25 -0.7
60882.35 -2.6
60882.45 0.0
60882.55 -0.9
60882.65 0.4
60882.75 -1.3
60882.85 -0.3
60882.95 -1.7
60883.05 1.1
60883.15 -1.0
60883.25 -0.1
60883.35 -2.2
60883.45 -0.5
60883.55 0.3
60883.65 -1.4
60883.75 -0.6
60883.85 -1.8
60883.95 -1.1
60884.05 0.2
60884.15 -2.0
60884.25 -0.4
60884.35 0.8
60884.45 -1.5
60884.55 -0.7
60884.65 -2.6
60884.75 0.0
60884.85 -0.9
60884.95 0.4
60885.05 -1.3
60885.15 -0.3
60885.25 -1.7
60885.35 1.1
60885.45 -1.0
60885.55 -0.1
60885.65 -2.2
60885.75 -0.5
60885.85 0.3
60885.95 -1.4
}\residh

% modified Allan deviation, log10
\pgfplotstableread{
x y lab
3.000 -12.045 902.6
3.301 -12.459 347.4
3.602 -12.750 177.8
3.903 -13.024 94.7
4.204 -13.466 34.2
4.505 -13.815 15.3
4.806 -14.056 8.8
5.107 -14.292 5.1
5.408 -14.602 2.5
5.709 -14.770 1.7
}\madev

% time deviation, log10
\pgfplotstableread{
x y lab
3.000 -9.284 5.2
3.301 -9.398 4.0
3.602 -9.387 4.1
3.903 -9.357 4.4
4.204 -9.495 3.2
4.505 -9.553 2.8
4.806 -9.481 3.3
5.107 -9.420 3.8
5.408 -9.432 3.7
5.709 -9.292 5.1
}\tdev

% reference averaging times
\pgfplotstableread{
x lab
3.255 h/2
3.556 h
4.033 d/8
4.334 d/4
4.635 d/2
4.937 day
5.414 ddd
5.782 wk
}\spans

\newcommand{\labfont}{\bfseries\fontsize{14.5}{17}\selectfont}
\pgfplotsset{
  panel/.style={
    scale only axis, anchor=south west,
    axis line style={line width=0.6pt},
    every tick/.style={black, line width=1pt},
    major tick length=7pt, minor tick length=3.5pt,
    tick align=outside,
    scaled ticks=false,
    tick label style={font=\fontsize{14}{16}\selectfont},
    every axis x label/.style={at={(axis description cs:0.5,0)}, anchor=center, yshift=-34.5pt, font=\labfont},
  },
  ylab/.style={every axis y label/.style={at={(axis description cs:#1,0.5)}, anchor=center, rotate=90, font=\labfont}},
  cross/.style={only marks, mark=x, mark size=#1, mark options={line width=0.5pt}, black},
}
\tikzset{redlab/.style={red, font=\bfseries\fontsize{#1}{11}\selectfont}}

\begin{document}
\begin{tikzpicture}
\path[use as bounding box] (0,0) rectangle (744pt,1052.5pt);

% ---- clock offsets
\begin{axis}[panel, ylab=-0.0759,
  at={(81.15pt,629.65pt)}, width=630pt, height=360.55pt,
  xmin=60854, xmax=60886, ymin=-16, ymax=14,
  xtick={60855,60860,60865,60870,60875,60880,60885},
  xticklabels={60855,60860,60865,60870,60875,60880,60885},
  minor x tick num=4,
  ytick={-15,-10,-5,0,5,10},
  yticklabels={−15,−10,−5,0,5,10},
  xlabel={Modified Julian Date},
  ylabel={nanosecond},
]
\addplot[cross=1.8pt] table[x=x, y=a] {\pthree};
\addplot[cross=1.8pt] table[x=x, y=b] {\pthree};
\addplot[cross=1.8pt] table[x=x, y=y] {\pthreeh};
\addplot[ppp, line width=1.8pt, unbounded coords=jump] table[x=x, y=y] {\gpsppp};
\node[anchor=west, font=\bfseries\fontsize{15}{18}\selectfont] at (rel axis cs:0.032,0.059)
  {\_2507\_RJ03PT13\_RJ03PT13.P3AA5\hspace{20pt}GPS P3 (x\textsubscript{black})\,,\hspace{7pt}GPSPPP (o\textsubscript{blue})\hspace{9pt}2931Ep};
\end{axis}

% ---- residuals
\begin{axis}[panel, ylab=-0.0627,
  at={(81.15pt,350.5pt)}, width=630pt, height=225.35pt,
  xmin=60854, xmax=60886, ymin=-5.06, ymax=4.14,
  xtick={60855,60860,60865,60870,60875,60880,60885},
  xticklabels={60855,60860,60865,60870,60875,60880,60885},
  minor x tick num=4,
  ytick={-5,-4,-3,-2,-1,0,1,2,3,4},
  yticklabels={−5,−4,−3,−2,−1,0,1,2,3,4},
  xlabel={Modified Julian Date},
  ylabel={residuals (ns)},
]
\addplot[cross=1.6pt] table[x=x, y=a] {\resid};
\addplot[cross=1.6pt] table[x=x, y=b] {\resid};
\addplot[cross=1.6pt] table[x=x, y=y] {\residh};
\node[anchor=west, font=\bfseries\fontsize{12.5}{15}\selectfont] at (rel axis cs:0.0317,0.0694)
  {Max Smoothing Residual: \_-4.037\_\_3.144\_-0.691\hspace{8pt}Sigma= 1.021ns};
\end{axis}

% ---- modified Allan deviation
\begin{axis}[panel, ylab=-0.1778,
  at={(84.75pt,72.15pt)}, width=270pt, height=224.65pt,
  xmin=2, xmax=6, ymin=-15.5, ymax=-10.5,
  xtick={2,3,4,5,6}, xticklabels={2,3,4,5,6},
  minor x tick num=1,
  ytick={-15,-14,-13,-12,-11}, yticklabels={−15,−14,−13,−12,−11},
  minor y tick num=1,
  clip marker paths=true,
  xlabel={Averaging time, log($\tau$) (s)},
  ylabel={Modified Allan Deviation (10\textsuperscript{-15})},
]
\addplot[only marks, mark=*, mark size=3pt, black,
  nodes near coords, point meta=explicit symbolic,
  every node near coord/.style={anchor=center, yshift=8.3pt, redlab=9.6}]
  table[x=x, y=y, meta=lab] {\madev};
\addplot[only marks, mark=*, mark size=3pt, black,
  nodes near coords, point meta=explicit symbolic,
  every node near coord/.style={anchor=center, yshift=7.6pt, redlab=9.6}]
  table[x=x, y expr=-15.5, meta=lab] {\spans};
\node[anchor=west, font=\bfseries\fontsize{8.5}{10}\selectfont] at (rel axis cs:0.062,0.946) {$\tau$ = 999s};
\end{axis}

% ---- time deviation
\begin{axis}[panel, ylab=-0.176,
  at={(426.7pt,72.15pt)}, width=269.5pt, height=224.65pt,
  xmin=1.75, xmax=6, ymin=-10, ymax=-8.5,
  xtick={2,3,4,5,6}, xticklabels={2,3,4,5,6},
  minor x tick num=1,
  ytick={-10,-9}, yticklabels={−10,−9},
  minor y tick num=1,
  xlabel={Averaging time, log($\tau$) (s)},
  ylabel={Time deviation (10\textsuperscript{-10} s)},
]
\addplot[only marks, mark=*, mark size=3pt, black,
  nodes near coords, point meta=explicit symbolic,
  every node near coord/.style={anchor=center, yshift=17.8pt, redlab=8.5}]
  table[x=x, y=y, meta=lab] {\tdev};
\addplot[only marks, mark=*, mark size=3pt, black,
  nodes near coords, point meta=explicit symbolic,
  every node near coord/.style={anchor=center, yshift=16pt, redlab=9.6}]
  table[x=x, y expr=-9.988, meta=lab] {\spans};
\end{axis}
\end{tikzpicture}
\end{document}
